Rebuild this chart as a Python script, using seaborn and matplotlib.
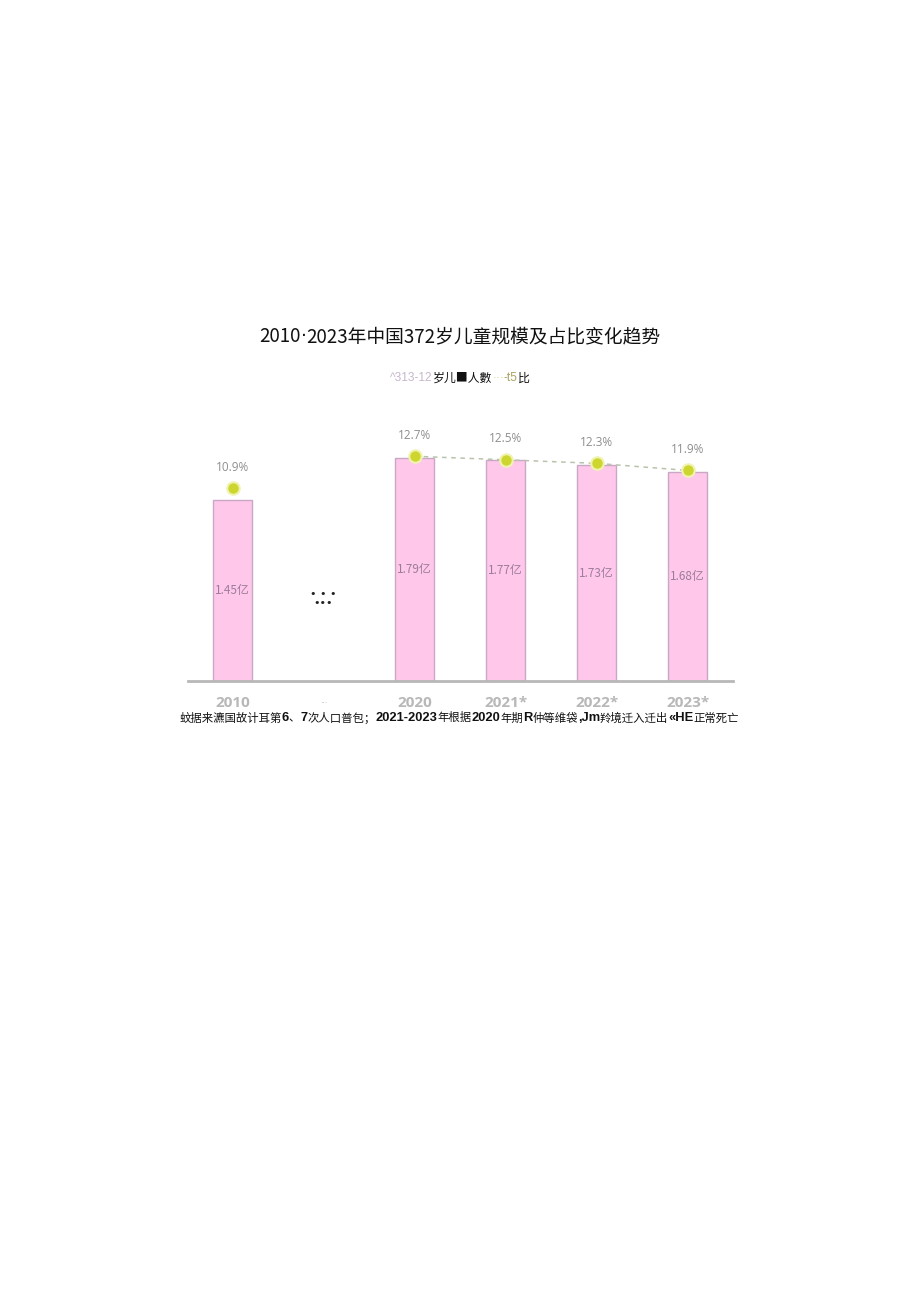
import numpy as np
import pandas as pd
import matplotlib
matplotlib.use("Agg")
import matplotlib.pyplot as plt
import seaborn as sns

# ---- data ----
categories = ["2010", "...", "2020", "2021*", "2022*", "2023*"]
children_100m = [1.45, np.nan, 1.79, 1.77, 1.73, 1.68]   # 亿人
share_pct = [10.9, np.nan, 12.7, 12.5, 12.3, 11.9]         # %
segment = ["a", None, "b", "b", "b", "b"]

title_pieces = ["2010", "·", "2023年中国372岁儿童规模及占比变化趋势"]
legend_pieces = [("^313-12", "#c9b6cd"), ("岁儿■人數", "#111111"),
                 ("···", "#d6d67e"), ("-t5", "#a9a25e"), ("比", "#111111")]
note_pieces = [("蚊据来瀌国故计耳第", "n"), ("6", "b"), ("、", "n"), ("7", "b"),
               ("次人口普包；", "n"), ("2021-2023", "b"), ("年根据", "n"),
               ("2020", "b"), ("年期", "n"), ("R", "b"), ("仲等维袋", "n"),
               (",Jm", "b"), ("羚境迁入迁出", "n"), ("«HE", "b"), ("正常死亡", "n")]

df = pd.DataFrame({"year": categories, "kids": children_100m,
                   "pct": share_pct, "seg": segment})

sns.set_theme(style="white")
CJK = ["Noto Sans CJK SC", "DejaVu Sans"]
LAT = ["Liberation Sans", "Noto Sans CJK SC"]
plt.rcParams["font.family"] = CJK

W, H = 920, 1301
fig = plt.figure(figsize=(W / 100, H / 100), dpi=100)
fig.patch.set_facecolor("white")

left, right, base, top = 188, 733, 681, 420
ax = fig.add_axes([left / W, (H - base) / H, (right - left) / W, (base - top) / H])
ax.set_facecolor("none")

sns.barplot(data=df, x="year", y="kids", order=categories, ax=ax,
            color="#ffc8ea", edgecolor="#c9a7c6", linewidth=1.0,
            width=0.42, saturation=1)
ax.set_ylim(0, 2.095)
ax.set_xlim(-0.49, 5.5)

bars = ax.containers[0]
ax.bar_label(bars, labels=[f"{b.get_height():.2f}亿" for b in bars],
             label_type="center", color="#9c7c9c", fontsize=8.5,
             family=CJK)

ax2 = ax.twinx()
sns.pointplot(data=df, x="year", y="pct", hue="seg", order=categories,
              palette=["#b9c3ab", "#b9c3ab"], ax=ax2, linestyles="--",
              markers="o", legend=False, errorbar=None)
for ln in ax2.lines:
    ln.set_linewidth(1.1)
    ln.set_dashes([3, 3])
    ln.set_markerfacecolor("#cdd62e")
    ln.set_markeredgecolor("#f0f3b0")
    ln.set_markeredgewidth(1.5)
    ln.set_markersize(9)
for coll in ax2.collections:
    coll.set_visible(False)
ax2.set_ylim(0, 14.75)
ax2.set_xlim(-0.49, 5.5)

for i, v in enumerate(share_pct):
    if not np.isnan(v):
        ax2.annotate(f"{v}%", (i, v), xytext=(0, 15), textcoords="offset points",
                     ha="center", va="center", color="#8e8e8e", fontsize=8.5,
                     family=["Open Sans", "DejaVu Sans"])

# the "..." break marker in the gap
gap = categories.index("...")
trans = matplotlib.transforms.blended_transform_factory(ax.transData, ax.transAxes)
ax.text(gap, 0.333, "• • •", transform=trans, ha="center", va="center",
        fontsize=8, color="#222222", family="DejaVu Sans")
ax.text(gap, 0.298, "•••", transform=trans, ha="center", va="center",
        fontsize=8, color="#222222", family="DejaVu Sans")

for a in (ax, ax2):
    for s in ("left", "right", "top"):
        a.spines[s].set_visible(False)
    a.set_ylabel("")
    a.set_xlabel("")
ax.spines["bottom"].set_visible(True)
ax.spines["bottom"].set_color("#b8b8b8")
ax.spines["bottom"].set_linewidth(2.0)
ax2.spines["bottom"].set_visible(False)
ax.set_yticks([])
ax2.set_yticks([])
ax.tick_params(axis="x", length=0, pad=11)
ax.set_xticks(range(len(categories)))
ax.set_xticklabels(categories, color="#b8b8b8", fontsize=11,
                   fontweight="bold", family=["Open Sans", "DejaVu Sans"])
lab = ax.get_xticklabels()[gap]
lab.set_text("• • •")
lab.set_fontsize(5.5)
lab.set_color("#a8a8a8")
lab.set_fontweight("normal")
lab.set_family("DejaVu Sans")

renderer = fig.canvas.get_renderer()


def rich_line(pieces, cx, cy):
    arts = []
    for s, color, size, weight, fam in pieces:
        t = fig.text(0, 0, s, color=color, fontsize=size, fontweight=weight,
                     family=fam, ha="left", va="center", transform=None)
        arts.append(t)
    widths = [t.get_window_extent(renderer).width for t in arts]
    x = cx - sum(widths) / 2
    for t, w in zip(arts, widths):
        t.set_position((x, H - cy))
        x += w


# title
rich_line([(title_pieces[0], "#111111", 13.5, "normal", CJK),
           (title_pieces[1], "#111111", 13.5, "normal", ["DejaVu Sans"]),
           (title_pieces[2], "#111111", 13.5, "normal", CJK)], 460, 337)

# legend-like subtitle
leg = []
for s, c in legend_pieces:
    if any(ord(ch) > 0x2e80 for ch in s):
        leg.append((s, c, 8.6, "normal", CJK))
    else:
        leg.append((s, c, 8.6, "normal", LAT))
rich_line(leg, 460, 378)

# footnote
note = []
for s, kind in note_pieces:
    if kind == "b":
        note.append((s, "#111111", 9.3, "bold", LAT))
    else:
        note.append((s, "#111111", 8.2, "normal", CJK))
rich_line(note, 459, 718)

fig.savefig("out.png", dpi=100, facecolor="white")
